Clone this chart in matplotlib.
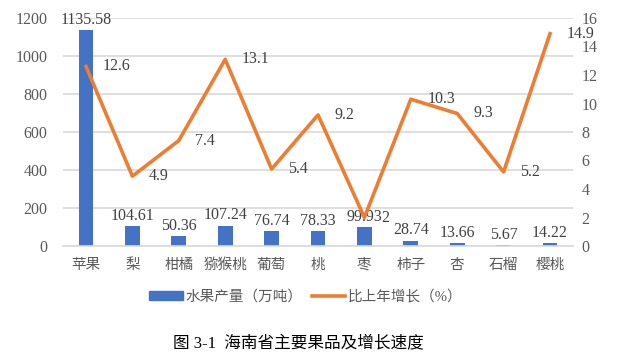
import matplotlib.pyplot as plt
import numpy as np
from matplotlib.lines import Line2D
from matplotlib.patches import Patch

plt.rcParams['font.family'] = ['Liberation Serif', 'Noto Sans CJK SC', 'DejaVu Sans']

# data
fruits = ["苹果", "梨", "柑橘", "猕猴桃", "葡萄", "桃", "枣", "柿子", "杏", "石榴", "樱桃"]
output = [1135.58, 104.61, 50.36, 107.24, 76.74, 78.33, 99.93, 28.74, 13.66, 5.67, 14.22]
growth = [12.6, 4.9, 7.4, 13.1, 5.4, 9.2, 2, 10.3, 9.3, 5.2, 14.9]

bar_color = "#4472C4"
line_color = "#ED7D31"
tick_color = "#595959"
label_color = "#404040"

fig = plt.figure(figsize=(6.26, 3.58), dpi=100)
ax = fig.add_axes([62.8 / 626, 1 - 246 / 358, (573.2 - 62.8) / 626, (246 - 18) / 358])
ax2 = ax.twinx()

x = np.arange(len(fruits))
ax.bar(x, output, width=0.32, color=bar_color, zorder=2)
ax2.plot(x, growth, color=line_color, linewidth=2.6, zorder=3)

ax.set_xlim(-0.5, len(fruits) - 0.5)
ax.set_ylim(0, 1200)
ax.set_yticks(range(0, 1201, 200))
ax2.set_ylim(0, 16)
ax2.set_yticks(range(0, 17, 2))

ax.grid(axis="y", color="#D9D9D9", linewidth=1.2, zorder=0)
ax.set_axisbelow(True)
for a in (ax, ax2):
    for s in a.spines.values():
        s.set_visible(False)
    a.tick_params(length=0, labelsize=11.5, colors=tick_color)
ax.spines["bottom"].set_visible(True)
ax.spines["bottom"].set_color("#D9D9D9")
ax.spines["bottom"].set_linewidth(1.2)

ax.set_xticks(x)
ax.set_xticklabels(fruits, fontsize=10.5, color=tick_color)
ax.tick_params(axis="x", pad=9)
ax.tick_params(axis="y", pad=11)
ax2.tick_params(axis="y", pad=6)

# bar labels
for xi, v in zip(x, output):
    ax.text(xi, v + 12, f"{v:g}", ha="center", va="bottom", fontsize=11.5, color=label_color, zorder=4)

# line labels, right of the points
for xi, v in zip(x, growth):
    ax2.annotate(f"{v:g}", (xi, v), xytext=(12, 0), textcoords="offset points",
                 ha="left", va="center", fontsize=11.5, color=label_color, zorder=4)

handles = [Patch(color=bar_color, label="水果产量（万吨）"),
           Line2D([0], [0], color=line_color, lw=2.6, label="比上年增长（%）")]
fig.legend(handles=handles, loc="center", bbox_to_anchor=(306 / 626, 1 - 297 / 358), ncol=2,
           frameon=False, fontsize=10.5, labelcolor=tick_color, handlelength=2.3,
           handleheight=0.6, columnspacing=0.6, handletextpad=0.2)

fig.text(298 / 626, 1 - 343 / 358, "图 3-1  海南省主要果品及增长速度", ha="center", va="center",
         fontsize=12, color="black")

plt.savefig("out.png", dpi=100)
